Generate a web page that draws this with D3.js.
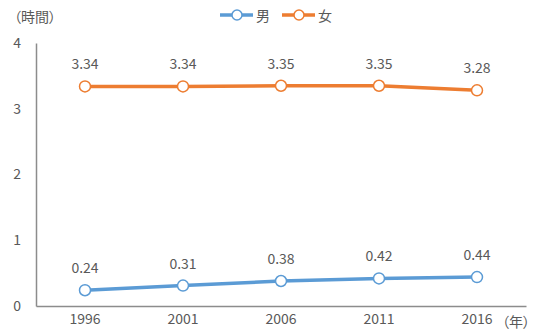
<!DOCTYPE html>
<html>
<head>
<meta charset="utf-8">
<script src="https://cdn.jsdelivr.net/npm/d3@7"></script>
<style>
  html, body { margin: 0; padding: 0; background: #fff; }
  svg text { font-family: "Noto Sans CJK JP", "Noto Sans", sans-serif; fill: #595959; }
  .unit { font-feature-settings: "palt"; }
</style>
</head>
<body>
<svg id="chart" width="535" height="332"></svg>
<script>
const years = ["1996", "2001", "2006", "2011", "2016"];
const male = [0.24, 0.31, 0.38, 0.42, 0.44];
const female = [3.34, 3.34, 3.35, 3.35, 3.28];
const yTicks = [0, 1, 2, 3, 4];
const seriesNames = ["男", "女"];
const seriesColors = ["#5B9BD5", "#ED7D31"];

const svg = d3.select("#chart");
const plotLeft = 36, plotRight = 526, plotTop = 43, plotBottom = 306;

const x = d3.scaleBand().domain(years).range([plotLeft, plotRight]);
const y = d3.scaleLinear().domain([0, 4]).range([plotBottom, plotTop]);
const cx = (i) => x(years[i]) + x.bandwidth() / 2;

// axes
const xAxis = svg.append("g").attr("transform", `translate(0,${plotBottom})`)
  .call(d3.axisBottom(x).tickSize(0).tickPadding(8));
xAxis.select(".domain").attr("stroke", "#8c8c8c").attr("stroke-width", 1.5);
xAxis.selectAll("text").style("font-size", "14px").attr("fill", "#595959");

const yAxis = svg.append("g").attr("transform", `translate(${plotLeft},0)`)
  .call(d3.axisLeft(y).tickValues(yTicks).tickFormat(d3.format("d")).tickSize(0).tickPadding(15));
yAxis.select(".domain").attr("stroke", "#8c8c8c").attr("stroke-width", 1.5);
yAxis.selectAll("text").style("font-size", "14px").attr("fill", "#595959");

// unit labels
svg.append("text").attr("class", "unit").attr("x", 14).attr("y", 22).style("font-size", "14px").text("（時間）");
svg.append("text").attr("class", "unit").attr("x", 530).attr("y", 327).attr("text-anchor", "end")
  .style("font-size", "14px").text("（年）");

const line = d3.line().x((d, i) => cx(i)).y(d => y(d));

[male, female].forEach((vals, s) => {
  const g = svg.append("g");
  g.append("path").datum(vals).attr("d", line)
    .attr("fill", "none").attr("stroke", seriesColors[s]).attr("stroke-width", 3.5);
  g.selectAll("circle").data(vals).join("circle")
    .attr("cx", (d, i) => cx(i))
    .attr("cy", d => y(d))
    .attr("r", 5.5)
    .attr("fill", "#fff").attr("stroke", seriesColors[s]).attr("stroke-width", 1.5);
  g.selectAll("text").data(vals).join("text")
    .attr("x", (d, i) => cx(i))
    .attr("y", d => y(d) - 17)
    .attr("text-anchor", "middle")
    .style("font-size", "14px")
    .text(d => d.toFixed(2));
});

// legend
const legend = svg.append("g");
seriesNames.forEach((name, i) => {
  const lx = 220 + i * 62, ly = 15;
  legend.append("line").attr("x1", lx).attr("x2", lx + 33).attr("y1", ly).attr("y2", ly)
    .attr("stroke", seriesColors[i]).attr("stroke-width", 3.5);
  legend.append("circle").attr("cx", lx + 17).attr("cy", ly).attr("r", 5)
    .attr("fill", "#fff").attr("stroke", seriesColors[i]).attr("stroke-width", 1.5);
  legend.append("text").attr("x", lx + 36).attr("y", ly + 6).style("font-size", "14px").text(name);
});
</script>
</body>
</html>
